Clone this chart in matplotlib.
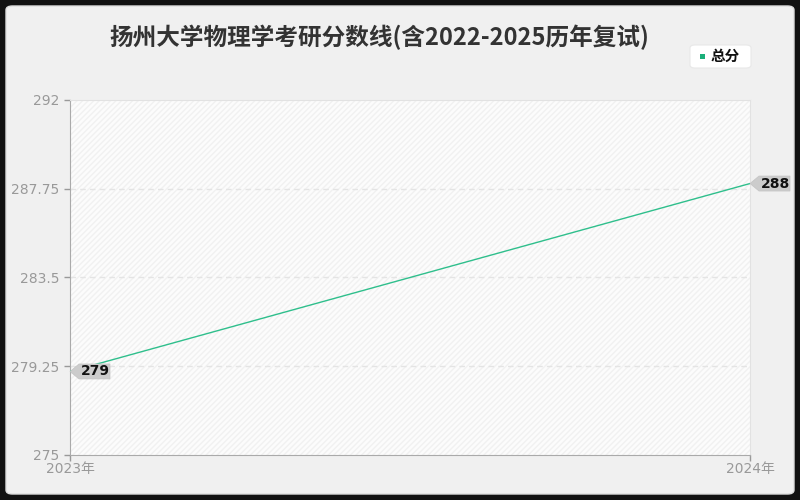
import matplotlib
matplotlib.use("Agg")
import matplotlib.pyplot as plt
from matplotlib.patches import FancyBboxPatch, Rectangle, Polygon

plt.rcParams['font.family'] = ['Noto Sans CJK SC', 'DejaVu Sans']
TICK_FAMILY = ['DejaVu Sans', 'Noto Sans CJK SC']

title = "扬州大学物理学考研分数线(含2022-2025历年复试)"
series_name = "总分"
years = ["2023年", "2024年"]
scores = [279, 288]
yticks = [275, 279.25, 283.5, 287.75, 292]
ytick_labels = ["275", "279.25", "283.5", "287.75", "292"]

line_color = "#2fbf8c"
W, H = 800, 500
fig = plt.figure(figsize=(8, 5), dpi=100)
fig.patch.set_facecolor("#111111")
bg = FancyBboxPatch((6 / W, 6 / H), 788 / W, 488 / H,
                    boxstyle="round,pad=0,rounding_size=0.008",
                    transform=fig.transFigure, facecolor="#f0f0f0",
                    edgecolor="#dddddd", linewidth=1, zorder=-10)
fig.patches.append(bg)

ax = fig.add_axes([70 / W, 45 / H, 680 / W, 355 / H])
ax.set_facecolor("#fcfcfc")
ax.add_patch(Rectangle((0, 0), 1, 1, transform=ax.transAxes, facecolor="none",
                       edgecolor="#f1f1f1", hatch="//////", linewidth=0, zorder=0))

x = list(range(len(years)))
ax.plot(x, scores, color=line_color, linewidth=1, zorder=3)
ax.set_xlim(0, 1)
ax.set_ylim(275, 292)
ax.set_yticks(yticks)
ax.set_yticklabels(ytick_labels, family=TICK_FAMILY)
ax.set_xticks(x)
ax.set_xticklabels(years, family=TICK_FAMILY)
for t in yticks[1:-1]:
    ax.axhline(t, color="#e4e4e4", linestyle=(0, (4, 3)), linewidth=1, zorder=1)
ax.tick_params(axis="both", colors="#999999", labelcolor="#999999", labelsize=10,
               length=4, width=1)
ax.tick_params(axis="x", pad=1)
for s in ["left", "bottom"]:
    ax.spines[s].set_color("#aaaaaa")
for s in ["top", "right"]:
    ax.spines[s].set_color("#e2e2e2")

fig.text(379 / W, 1 - 37 / H, title, ha="center", va="center", fontsize=17,
         color="#333333", fontweight="bold")

# legend
leg = FancyBboxPatch((690 / W, 1 - 68 / H), 61 / W, 23 / H,
                     boxstyle="round,pad=0,rounding_size=0.006",
                     transform=fig.transFigure, facecolor="white",
                     edgecolor="#e8e8e8", linewidth=0.8, zorder=2)
fig.patches.append(leg)
fig.patches.append(Rectangle((700 / W, 1 - 59 / H), 5 / W, 5 / H,
                             transform=fig.transFigure, facecolor="#1aaf7a",
                             edgecolor="none", zorder=3))
fig.text(711 / W, 1 - 56 / H, series_name, ha="left", va="center", fontsize=10.5,
         color="#111111", fontweight="bold", zorder=4)

# value tags
fig.canvas.draw()
for xi, v in zip(x, scores):
    px, py = ax.transData.transform((xi, v))
    pts = [(px, py), (px + 9, py + 7.5), (px + 40, py + 7.5),
           (px + 40, py - 7.5), (px + 9, py - 7.5)]
    fig.patches.append(Polygon(pts, closed=True, transform=None,
                               facecolor="#cccccc", edgecolor="#c4c4c4",
                               linewidth=0.5, zorder=5))
    fig.text((px + 11) / W, py / H, str(v), ha="left", va="center",
             fontsize=10, fontweight="bold", color="#111111",
             family=TICK_FAMILY, zorder=6)

fig.savefig("out.png", dpi=100, facecolor=fig.get_facecolor())
